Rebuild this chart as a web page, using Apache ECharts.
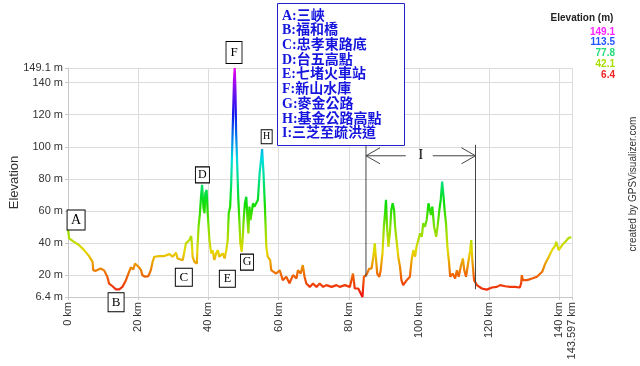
<!DOCTYPE html>
<html><head><meta charset="utf-8">
<script src="https://cdn.jsdelivr.net/npm/echarts@6/dist/echarts.min.js"></script>
<style>html,body{margin:0;padding:0;background:#fff}#c{width:640px;height:366px}</style>
</head><body><div id="c"></div>
<script>
// ---- data ----
const distKm = [0,0.3,1.7,3.1,4.6,6.0,7.0,7.2,7.9,9.3,10.3,11.2,11.7,12.7,13.6,14.6,15.5,16.5,17.4,17.9,18.6,19.1,19.6,20.3,20.8,21.2,22.0,22.9,23.6,24.1,24.6,26.0,27.4,28.9,29.8,30.8,31.2,32.7,33.1,33.6,34.6,35.1,35.3,35.5,36.0,36.7,36.9,37.2,37.6,37.9,38.2,38.6,38.9,39.1,39.5,39.8,40.3,40.8,41.2,41.7,42.2,42.7,43.1,43.6,44.1,44.6,45.1,45.5,45.8,46.2,46.5,46.8,47.1,47.3,47.5,47.7,47.9,48.2,48.5,48.9,49.1,49.5,49.8,50.1,50.4,50.8,51.1,51.4,51.7,52.0,52.3,52.7,53.1,53.6,54.1,54.6,55.1,55.3,55.7,56.1,56.5,56.9,57.6,57.9,58.4,59.3,60.3,61.2,62.2,63.1,64.1,65.1,65.5,66.3,66.9,67.4,67.9,68.9,69.8,70.8,71.7,72.7,73.6,75.1,76.5,77.4,78.9,80.3,81.2,81.7,82.7,83.3,83.9,84.3,85.1,85.8,86.5,87.0,87.4,87.7,88.1,88.7,89.1,89.6,90.0,90.4,90.6,90.9,91.3,91.7,92.1,92.5,92.9,93.2,93.6,94.1,94.6,95.0,95.5,96.5,97.4,97.9,98.4,98.9,99.3,99.8,100.3,100.8,101.2,101.7,102.2,102.7,103.1,103.4,103.8,104.3,104.9,105.3,105.8,106.2,106.6,107.0,107.3,107.7,108.1,108.5,108.9,109.6,110.3,110.8,111.3,111.9,112.5,112.9,113.4,114.0,114.6,114.9,115.2,115.7,116.5,116.9,117.9,119.3,120.8,122.2,123.1,124.6,126.0,127.4,128.7,129.1,129.3,129.6,130.8,132.2,133.6,135.1,136.0,137.0,137.9,138.9,139.1,139.8,140.3,140.8,141.7,142.7,143.4,143.597];
const elevM = [49.4,43,40.8,38.8,35.6,31.9,28.3,23.1,22.7,24.2,23,19,14.8,13.1,11.2,11.2,12.7,16.9,22.1,24.8,23.6,27.3,28.3,24.8,23.1,20,19,19.4,23.1,28.3,31.5,31.9,31.9,33.1,31.5,34,30.4,29.4,29.4,39.8,41.9,44.4,39.8,31.5,28.3,27.3,37.7,50.2,58.6,68.9,76.3,62,58.6,71,73.1,58.6,41.9,33.6,35.6,29.4,33.6,35.6,31.5,30.4,33.6,30.4,35.6,41.9,58.6,62.7,77.3,100.2,125.2,141.9,149.1,135.6,108.6,89.8,68.9,50.2,39.8,34.6,43.9,56.4,64.8,68.9,56.4,46,62.7,54.4,58.6,64.8,62.7,64.8,66.9,83.6,93.9,98.6,83.6,62.7,38,31.5,29.4,23.1,22,21,23.1,16.9,19,15,20,18,23.1,21,26.3,19,14.8,12.7,14.8,12.7,14.8,12.7,13.8,12.7,13.8,12.7,13.8,12.7,21,11.7,11.7,9,6.4,19,20.5,24,24.2,31.5,39.8,31.5,21,19,23.1,33.6,50.2,60.6,66.9,50.2,37.7,46,60.6,64.8,60.6,50.2,41.9,31.5,25.2,16.9,13.8,16.9,19,29.4,35.6,31.5,37.7,41.9,46,43.9,52.3,50.2,54.4,64.8,65.8,57.5,62.7,50.2,43.9,50.2,60.6,66.9,78.3,68.9,60.6,52.3,37.7,29.4,19,21,17.9,23.1,19,25.2,30.4,23.1,19,27.3,35.6,41.9,29.4,16.9,13.8,13.8,11.7,11,12.3,12.7,13.8,13.1,12.7,12.7,12.3,14.8,20,16.9,16.9,17.9,19,22.1,27.3,31.5,35.6,38.8,40.8,35.6,36.7,38.8,40.8,43.3,43.6,43.6];
const xTicks = [0,20,40,60,80,100,120,140,143.597];
const yTicks = [6.4,20,40,60,80,100,120,140,149.1];
const legendLines = ['A:三峽','B:福和橋','C:忠孝東路底','D:台五高點','E:七堵火車站','F:新山水庫','G:麥金公路','H:基金公路高點','I:三芝至疏洪道'];
const scaleValues = [149.1,113.5,77.8,42.1,6.4];
const annLetters = ['A','B','C','D','E','F','G','H'];
const annKm = [2.3,13.7,33.0,38.3,45.4,47.3,51.0,56.6];
const annM = [54.4,3.1,18.75,82.5,17.8,158.75,28.1,106.25];
const iRangeKm = [84.9,116.1];
const iLabel = 'I';

// ---- styles ----
const boxSize = {A:[18,20],B:[16,19],C:[17,18],D:[14,16],E:[16,17],F:[16,22],G:[13,16],H:[11,14]};
const boxFont = {A:14,B:13,C:13,D:12,E:12,F:13,G:12,H:10};
const hueColors = ['#ee1111','#ee6a00','#e6d800','#88e000','#11dd00','#00e07a','#00dede','#0077ee','#1111ee','#7711ee','#ee00ee'];
const scaleColors = ['#ff22ff','#2255ff','#22dd77','#aadd00','#ee2222'];
const sans = '"Liberation Sans", Arial, sans-serif';

const chart = echarts.init(document.getElementById('c'));
chart.setOption({
  animation:false,
  grid:{left:68,right:68,top:68,bottom:69,containLabel:false,outerBoundsMode:'none'},
  xAxis:{type:'value',min:0,max:143.597,
    name:'Distance',nameLocation:'middle',nameGap:52,
    nameTextStyle:{fontFamily:sans,fontSize:13,color:'#333'},
    axisLine:{show:true,lineStyle:{color:'#c8c8c8'}},
    axisTick:{show:true,length:3,customValues:xTicks,lineStyle:{color:'#c8c8c8'}},
    axisLabel:{customValues:xTicks,rotate:90,margin:5,formatter:v=>v+' km',fontFamily:sans,fontSize:11,color:'#333'},
    splitLine:{show:true,lineStyle:{color:'#dcdcdc'}}},
  yAxis:{type:'value',min:6.4,max:149.1,
    name:'Elevation',nameLocation:'middle',nameGap:47,nameRotate:90,nameMoveOverlap:false,
    nameTextStyle:{fontFamily:sans,fontSize:13,color:'#333'},
    axisLine:{show:true,lineStyle:{color:'#c8c8c8'}},
    axisTick:{show:true,length:3,customValues:yTicks,lineStyle:{color:'#c8c8c8'}},
    axisLabel:{customValues:yTicks,margin:5,formatter:v=>v+' m',fontFamily:sans,fontSize:11,color:'#333'},
    splitLine:{show:true,lineStyle:{color:'#dcdcdc'}}},
  visualMap:{show:false,type:'continuous',min:6.4,max:149.1,dimension:1,seriesIndex:0,inRange:{color:hueColors}},
  series:[
    {type:'line',data:distKm.map((d,i)=>[d,elevM[i]]),showSymbol:false,lineStyle:{width:2.2},z:3,silent:true},
    {type:'scatter',clip:false,symbol:'rect',z:5,silent:true,
     data:annLetters.map((l,i)=>({name:l,value:[annKm[i],annM[i]],symbolSize:boxSize[l],
       label:{fontSize:boxFont[l]}})),
     itemStyle:{color:'#fff',borderColor:'#000',borderWidth:1,opacity:1},
     label:{show:true,position:'inside',formatter:p=>p.name,color:'#000',fontFamily:'"Liberation Serif", serif'}}
  ]
});

const px = (x,y)=>chart.convertToPixel({gridIndex:0},[x,y]);
const g = [];
// dimension "I"
const topM = 101.25, arrowM = 94.4, botM = [18.75, 11.25];
const L = px(iRangeKm[0],arrowM), R = px(iRangeKm[1],arrowM);
const Lt = px(iRangeKm[0],topM), Lb = px(iRangeKm[0],botM[0]);
const Rt = px(iRangeKm[1],topM), Rb = px(iRangeKm[1],botM[1]);
const lineStyle = {stroke:'#444',lineWidth:1};
g.push({type:'line',z:50,shape:{x1:Lt[0],y1:Lt[1],x2:Lb[0],y2:Lb[1]},style:lineStyle});
g.push({type:'line',z:50,shape:{x1:Rt[0],y1:Rt[1],x2:Rb[0],y2:Rb[1]},style:lineStyle});
const mid = (L[0]+R[0])/2;
g.push({type:'line',z:50,shape:{x1:L[0],y1:L[1],x2:mid-15,y2:L[1]},style:lineStyle});
g.push({type:'line',z:50,shape:{x1:mid+12,y1:R[1],x2:R[0],y2:R[1]},style:lineStyle});
g.push({type:'polyline',z:50,shape:{points:[[L[0]+14,L[1]-8],[L[0],L[1]],[L[0]+14,L[1]+8]]},style:{stroke:'#444',lineWidth:1,fill:null}});
g.push({type:'polyline',z:50,shape:{points:[[R[0]-14,R[1]-8],[R[0],R[1]],[R[0]-14,R[1]+8]]},style:{stroke:'#444',lineWidth:1,fill:null}});
g.push({type:'text',z:50,x:mid,y:L[1],style:{text:iLabel,font:'14px "Liberation Serif", serif',fill:'#000',align:'center',verticalAlign:'middle'}});
// legend box
g.push({type:'rect',z:100,shape:{x:277.5,y:3.5,width:127,height:142},style:{fill:'#fff',stroke:'#2222cc',lineWidth:1}});
legendLines.forEach((t,i)=>{
  g.push({type:'text',z:101,x:282,y:16+i*14.7,style:{text:t,font:'bold 14px "Liberation Serif", "Noto Sans CJK TC", serif',fill:'#1515dd',align:'left',verticalAlign:'middle'}});
});
// colour scale
g.push({type:'text',z:101,x:582,y:18,style:{text:'Elevation (m)',font:'bold 10px '+sans,fill:'#222',align:'center',verticalAlign:'middle'}});
scaleValues.forEach((v,i)=>{
  g.push({type:'text',z:101,x:615,y:32+i*10.7,style:{text:v.toFixed(1),font:'bold 10px '+sans,fill:scaleColors[i],align:'right',verticalAlign:'middle'}});
});
// credit
g.push({type:'text',z:101,x:633,y:184,rotation:Math.PI/2,style:{text:'created by GPSVisualizer.com',font:'10px '+sans,fill:'#333',align:'center',verticalAlign:'middle'}});
chart.setOption({graphic:{elements:g}});
</script>
</body></html>
